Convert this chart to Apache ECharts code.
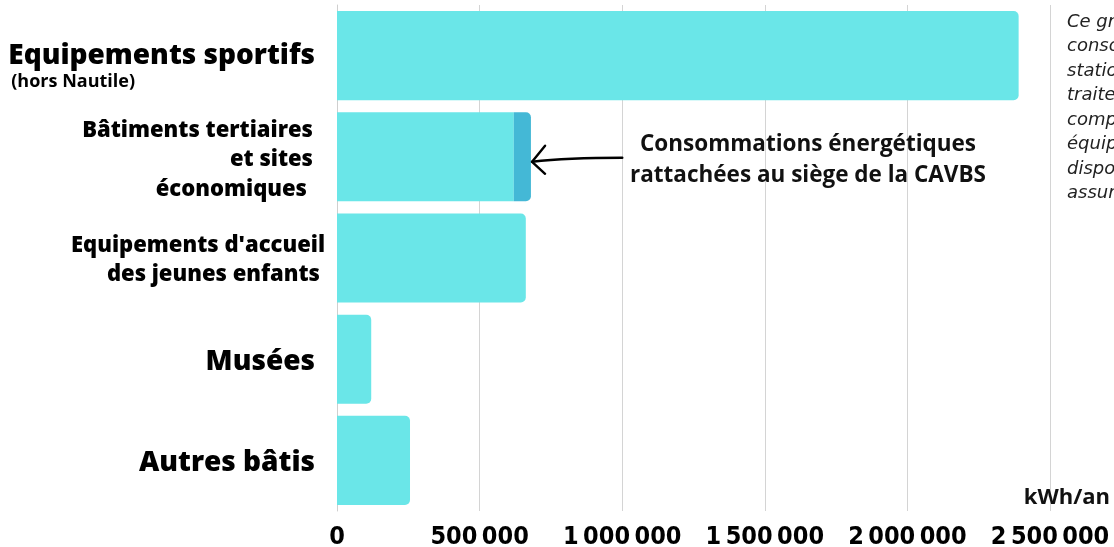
<!DOCTYPE html>
<html><head><meta charset="utf-8">
<script src="https://cdn.jsdelivr.net/npm/echarts@6/dist/echarts.min.js"></script>
<style>html,body{margin:0;padding:0;background:#fff;overflow:hidden}#c{width:1114px;height:547px}</style>
</head><body><div id="c"></div>
<script>
// ---- data ----
const categories = ['Equipements sportifs', 'Bâtiments tertiaires et sites économiques', "Equipements d'accueil des jeunes enfants", 'Musées', 'Autres bâtis'];
const mainValues = [2390000, 620000, 662000, 120000, 256000];
const siegeValues = [0, 60000, 0, 0, 0];
const xTicks = [0, 500000, 1000000, 1500000, 2000000, 2500000];
const unitLabel = 'kWh/an';
const annotationLines = ['Consommations énergétiques', 'rattachées au siège de la CAVBS'];
const noteLines = [
  'Ce graphique ne prend pas en compte les',
  'consommations liées aux',
  'stations d\'épuration et de',
  'traitement des eaux, ni celles des',
  'compétences exercées dans des',
  'équipements mis à',
  'disposition ou dont la gestion est',
  'assurée par un tiers.'
];
const arrowFromValue = 1000000;
const arrowToValue = 684000;

// ---- chart ----
const LIGHT = '#6ae6e8', DARK = '#44b8d6';
const fmt = v => String(v).replace(/\B(?=(\d{3})+(?!\d))/g, '\u2009');
const labelRich = {
  'Equipements sportifs': '{sp| }\n{big|Equipements sportifs}\n{small|(hors Nautile)}',
  'Bâtiments tertiaires et sites économiques': '{sp6| }\n{mid|Bâtiments tertiaires}\n{mid|et sites}\n{eco|économiques}',
  "Equipements d'accueil des jeunes enfants": "{sp4| }\n{acc|Equipements d'accueil}\n{jeu|des jeunes enfants}",
  'Musées': '{sp6| }\n{big|Musées}',
  'Autres bâtis': '{sp6| }\n{big|Autres bâtis}'
};
const F = '"Open Sans", "Noto Sans", sans-serif';
const chart = echarts.init(document.getElementById('c'), null, {renderer: 'canvas'});
const option = {
  animation: false,
  backgroundColor: '#fff',
  grid: {left: 337, right: 64, top: 5, height: 506, containLabel: false, outerBoundsMode: 'none'},
  xAxis: {
    type: 'value', min: xTicks[0], max: xTicks[xTicks.length - 1], interval: xTicks[1] - xTicks[0],
    axisLine: {show: false}, axisTick: {show: false},
    splitLine: {show: true, lineStyle: {color: '#d4d4d4', width: 1}},
    axisLabel: {
      formatter: v => fmt(v), margin: 14, color: '#000',
      fontFamily: '"DejaVu Sans Condensed", "DejaVu Sans", sans-serif', fontWeight: 'bold', fontSize: 25,
      showMinLabel: true, showMaxLabel: true
    }
  },
  yAxis: {
    type: 'category', inverse: true, data: categories,
    axisLine: {show: true, lineStyle: {color: '#cfcfcf', width: 1}},
    axisTick: {show: false},
    axisLabel: {
      margin: 12, color: '#000', align: 'right',
      formatter: v => labelRich[v] || v,
      rich: {
        sp: {fontSize: 10, lineHeight: 22},
        sp6: {fontSize: 4, lineHeight: 6},
        sp4: {fontSize: 4, lineHeight: 4},
        big: {fontFamily: F, fontWeight: 800, fontSize: 28, lineHeight: 30, color: '#000', padding: [0, 10, 0, 0]},
        small: {fontFamily: F, fontWeight: 'bold', fontSize: 18, lineHeight: 22, color: '#000', padding: [0, 190, 0, 0]},
        mid: {fontFamily: F, fontWeight: 800, fontSize: 22, lineHeight: 29.5, color: '#000', padding: [0, 12, 0, 0]},
        eco: {fontFamily: F, fontWeight: 800, fontSize: 22, lineHeight: 29.5, color: '#000', padding: [0, 18, 0, 0]},
        acc: {fontFamily: F, fontWeight: 800, fontSize: 22, lineHeight: 29, color: '#000', padding: [0, 0, 0, 0]},
        jeu: {fontFamily: F, fontWeight: 800, fontSize: 22, lineHeight: 29, color: '#000', padding: [0, 5, 0, 0]}
      }
    }
  },
  series: [
    {
      type: 'bar', stack: 'total', barCategoryGap: '12%',
      data: mainValues.map((v, i) => ({value: v, itemStyle: {borderRadius: siegeValues[i] ? 0 : [0, 5, 5, 0]}})),
      itemStyle: {color: LIGHT}
    },
    {
      type: 'bar', stack: 'total', barCategoryGap: '12%',
      data: siegeValues.map(v => v ? {value: v, itemStyle: {borderRadius: [0, 5, 5, 0]}} : '-'),
      itemStyle: {color: DARK}
    }
  ]
};
chart.setOption(option);

const tip = chart.convertToPixel({gridIndex: 0}, [arrowToValue, 1]);
const from = chart.convertToPixel({gridIndex: 0}, [arrowFromValue, 1]);
const ty = tip[1] + 5;
chart.setOption({
  graphic: [
    {type: 'bezierCurve', z: 100, shape: {x1: from[0], y1: ty - 4, x2: tip[0], y2: ty, cpx1: tip[0] + 35, cpy1: ty - 4},
     style: {stroke: '#000', lineWidth: 2.6, fill: null, lineCap: 'round'}},
    {type: 'polyline', z: 100, shape: {points: [[tip[0] + 13, ty - 16], [tip[0], ty], [tip[0] + 13, ty + 12]]},
     style: {stroke: '#000', lineWidth: 2.4, fill: null, lineCap: 'round', lineJoin: 'round'}},
    {type: 'text', z: 100, x: 808, y: 160, style: {text: annotationLines.join('\n'), align: 'center', verticalAlign: 'middle',
      font: 'bold 22.5px ' + F, lineHeight: 31, fill: '#111'}},
    {type: 'text', z: 100, x: 1110, y: 498, style: {text: unitLabel, align: 'right', verticalAlign: 'middle', font: 'bold 22px ' + F, fill: '#111'}},
    {type: 'text', z: 100, x: 1067, y: 10, style: {text: noteLines.join('\n'), align: 'left', verticalAlign: 'top', font: 'italic 18px "DejaVu Sans", sans-serif', lineHeight: 24.5, fill: '#222'}}
  ]
});
</script>
</body></html>
